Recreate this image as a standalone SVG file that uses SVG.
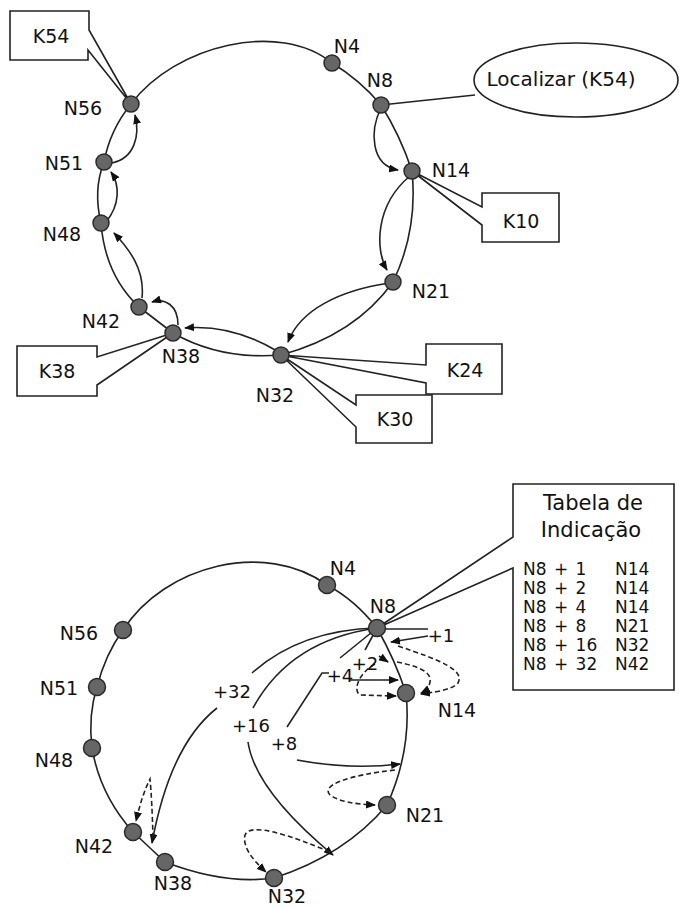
<svg xmlns="http://www.w3.org/2000/svg" width="679" height="908" viewBox="0 0 679 908">
<style>
text{font-family:"DejaVu Sans","Liberation Sans",sans-serif;fill:#111;}
.lbl{font-size:19px;text-anchor:middle;}
.fl{font-size:18px;text-anchor:middle;}
.row{font-size:17px;}
.ln{fill:none;stroke:#222;stroke-width:1.6;}
.ar{fill:none;stroke:#222;stroke-width:1.6;marker-end:url(#ah);}
.da{fill:none;stroke:#222;stroke-width:1.6;stroke-dasharray:5 3;marker-end:url(#ah);}
.box{fill:#fff;stroke:#222;stroke-width:1.6;}
.nd{fill:#666;stroke:#2a2a2a;stroke-width:1.5;}
</style>
<defs>
<marker id="ah" markerUnits="userSpaceOnUse" markerWidth="10" markerHeight="8" refX="9" refY="4" orient="auto">
<path d="M0,0 L10,4 L0,8 z" fill="#111"/>
</marker>
</defs>
<rect width="679" height="908" fill="#fff"/>

<!-- TOP DIAGRAM -->
<g id="connectors-top">
<path class="ln" d="M131,104 C175,45 280,20 332,63"/>
<path class="ln" d="M332,63 Q360,80 381,105"/>
<path class="ln" d="M381,105 Q400,135 412,171"/>
<path class="ln" d="M412,171 Q418,230 393,282"/>
<path class="ln" d="M393,282 Q355,335 281,355"/>
<path class="ln" d="M281,355 Q220,360 173,333"/>
<path class="ln" d="M173,333 L139,307"/>
<path class="ln" d="M139,307 Q105,275 101,223"/>
<path class="ln" d="M101,223 Q93,190 104,162"/>
<path class="ln" d="M104,162 Q110,130 131,104"/>
<path class="ar" d="M381,108 C370,130 370,165 398,170"/>
<path class="ar" d="M410,176 C375,205 375,250 387,270"/>
<path class="ar" d="M390,283 C340,290 300,310 288,342"/>
<path class="ar" d="M277,351 C250,335 220,325 185,328"/>
<path class="ar" d="M178,325 C178,305 165,298 152,302"/>
<path class="ar" d="M142,298 C145,270 130,250 114,233"/>
<path class="ar" d="M106,222 C120,205 120,185 111,172"/>
<path class="ar" d="M112,163 C135,158 140,135 135,115"/>
<path class="ln" d="M381,105 L475,95"/>
</g>

<g id="K54"><path class="box" d="M89,30 L89,11 L10,11 L10,60 L88,60 L88,50 L131,104 Z"/><text class="lbl" x="51" y="43">K54</text></g>
<g id="K10"><path class="box" d="M482,207 L482,193 L559,193 L559,242 L482,242 L482,225 L412,171 Z"/><text class="lbl" x="521" y="228">K10</text></g>
<g id="K24"><path class="box" d="M426,365 L426,344 L502,344 L502,394 L426,394 L426,383 L281,355 Z"/><text class="lbl" x="465" y="377">K24</text></g>
<g id="K30"><path class="box" d="M356,405 L356,395 L432,395 L432,443 L356,443 L356,427 L281,355 Z"/><text class="lbl" x="395" y="426">K30</text></g>
<g id="K38"><path class="box" d="M97,357 L97,346 L17,346 L17,396 L97,396 L97,385 L173,333 Z"/><text class="lbl" x="57" y="378">K38</text></g>
<g id="localizar"><ellipse class="box" cx="576" cy="80" rx="102" ry="37"/><text x="561" y="86" style="font-size:20px;text-anchor:middle">Localizar (K54)</text></g>

<g id="t-N4"><circle class="nd" cx="332" cy="63" r="8"/><text class="lbl" x="347" y="53">N4</text></g>
<g id="t-N8"><circle class="nd" cx="381" cy="105" r="8"/><text class="lbl" x="380" y="87">N8</text></g>
<g id="t-N14"><circle class="nd" cx="412" cy="171" r="8"/><text class="lbl" x="451" y="177">N14</text></g>
<g id="t-N21"><circle class="nd" cx="393" cy="282" r="8"/><text class="lbl" x="431" y="298">N21</text></g>
<g id="t-N32"><circle class="nd" cx="281" cy="355" r="8"/><text class="lbl" x="275" y="402">N32</text></g>
<g id="t-N38"><circle class="nd" cx="173" cy="333" r="8"/><text class="lbl" x="181" y="363">N38</text></g>
<g id="t-N42"><circle class="nd" cx="139" cy="307" r="8"/><text class="lbl" x="101" y="328">N42</text></g>
<g id="t-N48"><circle class="nd" cx="101" cy="223" r="8"/><text class="lbl" x="62" y="241">N48</text></g>
<g id="t-N51"><circle class="nd" cx="104" cy="162" r="8"/><text class="lbl" x="64" y="170">N51</text></g>
<g id="t-N56"><circle class="nd" cx="131" cy="104" r="8"/><text class="lbl" x="83" y="115">N56</text></g>

<!-- BOTTOM DIAGRAM -->
<g id="connectors-bottom">
<path class="ln" d="M123,630 C165,565 265,540 327,585"/>
<path class="ln" d="M327,585 Q355,600 377,628"/>
<path class="ln" d="M377,628 Q395,660 406,693"/>
<path class="ln" d="M406,693 Q412,750 387,805"/>
<path class="ln" d="M387,805 Q345,855 274,878"/>
<path class="ln" d="M274,878 Q225,885 165,862"/>
<path class="ln" d="M165,862 L133,832"/>
<path class="ln" d="M133,832 Q100,795 92,748"/>
<path class="ln" d="M92,748 Q88,715 97,687"/>
<path class="ln" d="M97,687 Q105,655 123,630"/>
<path class="ln" d="M384,629 L428,629"/>
<path class="ln" d="M377,628 Q300,630 252,673"/>
<path class="ln" d="M377,628 Q290,640 253,708"/>
<path class="ln" d="M377,628 L340,658"/>
<path class="ln" d="M377,628 L365,650"/>
<path class="ln" d="M287,727 L322,673 L329,673"/>
<path class="ar" d="M428,636 L391,642"/>
<path class="ar" d="M379,656 L388,662"/>
<path class="ar" d="M350,680 L398,680"/>
<path class="ar" d="M297,760 Q350,770 400,764"/>
<path class="ar" d="M248,742 Q255,790 333,855"/>
<path class="ar" d="M217,708 Q170,745 152,843"/>
<path class="da" d="M398,646 C440,660 465,670 458,683 C452,690 435,692 421,694"/>
<path class="da" d="M397,662 C418,666 432,672 430,682 C429,688 425,691 421,693"/>
<path class="da" d="M375,664 C360,672 352,690 360,695 L396,696"/>
<path class="da" d="M395,770 C350,775 320,785 330,795 C340,802 355,804 375,805"/>
<path class="da" d="M330,852 C290,835 250,822 245,835 C242,848 255,862 266,872"/>
<path class="da" d="M153,838 Q152,800 150,779 Q142,795 136,821"/>
</g>

<g id="tabela">
<path class="box" d="M513,537 L513,484 L674,484 L674,690 L513,690 L513,568 L377,628 Z"/>
<text x="593" y="510" style="font-size:21px;text-anchor:middle">Tabela de</text>
<text x="591" y="537" style="font-size:21px;text-anchor:middle">Indicação</text>
<text class="row" x="523" y="575" word-spacing="2">N8 + 1</text><text class="row" x="615" y="575">N14</text>
<text class="row" x="523" y="594" word-spacing="2">N8 + 2</text><text class="row" x="615" y="594">N14</text>
<text class="row" x="523" y="613" word-spacing="2">N8 + 4</text><text class="row" x="615" y="613">N14</text>
<text class="row" x="523" y="632" word-spacing="2">N8 + 8</text><text class="row" x="615" y="632">N21</text>
<text class="row" x="523" y="651" word-spacing="2">N8 + 16</text><text class="row" x="615" y="651">N32</text>
<text class="row" x="523" y="670" word-spacing="2">N8 + 32</text><text class="row" x="615" y="670">N42</text>
</g>

<g id="finger-labels">
<text class="fl" x="441" y="642">+1</text>
<text class="fl" x="365" y="670">+2</text>
<text class="fl" x="340" y="682">+4</text>
<text class="fl" x="284" y="750">+8</text>
<text class="fl" x="251" y="732">+16</text>
<text class="fl" x="232" y="698">+32</text>
</g>

<g id="b-N4"><circle class="nd" cx="327" cy="585" r="8.5"/><text class="lbl" x="343" y="575">N4</text></g>
<g id="b-N8"><circle class="nd" cx="377" cy="628" r="8.5"/><text class="lbl" x="383" y="613">N8</text></g>
<g id="b-N14"><circle class="nd" cx="406" cy="693" r="8.5"/><text class="lbl" x="457" y="717">N14</text></g>
<g id="b-N21"><circle class="nd" cx="387" cy="805" r="8.5"/><text class="lbl" x="425" y="822">N21</text></g>
<g id="b-N32"><circle class="nd" cx="274" cy="878" r="8.5"/><text class="lbl" x="287" y="903">N32</text></g>
<g id="b-N38"><circle class="nd" cx="165" cy="862" r="8.5"/><text class="lbl" x="173" y="890">N38</text></g>
<g id="b-N42"><circle class="nd" cx="133" cy="832" r="8.5"/><text class="lbl" x="94" y="853">N42</text></g>
<g id="b-N48"><circle class="nd" cx="92" cy="748" r="8.5"/><text class="lbl" x="54" y="767">N48</text></g>
<g id="b-N51"><circle class="nd" cx="97" cy="687" r="8.5"/><text class="lbl" x="59" y="695">N51</text></g>
<g id="b-N56"><circle class="nd" cx="123" cy="630" r="8.5"/><text class="lbl" x="79" y="640">N56</text></g>
</svg>
